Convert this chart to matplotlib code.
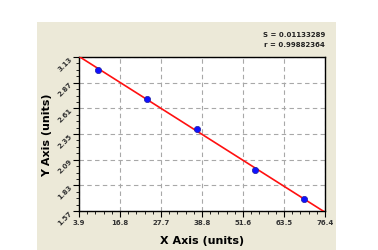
import matplotlib
matplotlib.use("Agg")
import matplotlib.pyplot as plt
import numpy as np
from matplotlib.patches import Rectangle
from matplotlib.ticker import AutoMinorLocator

# standard curve readings
x_vals = [9.6, 23.9, 38.7, 55.9, 70.3]
y_vals = [3.00, 2.705, 2.40, 1.99, 1.69]

x_min, x_max = 3.9, 76.4
y_min, y_max = 1.57, 3.13
x_tick_labels = ["3.9", "16.8", "27.7", "38.8", "51.6", "63.5", "76.4"]
y_tick_labels = ["1.57", "1.83", "2.09", "2.35", "2.61", "2.87", "3.13"]
stat_lines = ["S = 0.01133289", "r = 0.99882364"]

BEIGE = "#ECE9D8"

fig = plt.figure(figsize=(3.78, 2.51), dpi=100)
fig.patch.set_facecolor("white")
fig.patches.append(Rectangle((0.098, 0.0), 0.791, 0.908, transform=fig.transFigure,
                             facecolor=BEIGE, edgecolor="none", zorder=-10))

ax = fig.add_axes([0.209, 0.155, 0.651, 0.614])
ax.set_zorder(2)
ax.set_facecolor("white")

xt = np.linspace(x_min, x_max, len(x_tick_labels))
yt = np.linspace(y_min, y_max, len(y_tick_labels))
ax.set_xlim(x_min, x_max)
ax.set_ylim(y_min, y_max)
ax.set_xticks(xt)
ax.set_xticklabels(x_tick_labels)
ax.set_yticks(yt)
ax.set_yticklabels(y_tick_labels, rotation=45, va="center", rotation_mode="anchor")
ax.xaxis.set_minor_locator(AutoMinorLocator(5))
ax.yaxis.set_minor_locator(AutoMinorLocator(4))
ax.tick_params(which="major", length=4, width=0.8, labelsize=5, pad=2,
               labelcolor="#333333")
ax.tick_params(axis="y", which="major", pad=1.5)
ax.tick_params(which="minor", length=2, width=0.6)
for lab in ax.get_xticklabels() + ax.get_yticklabels():
    lab.set_fontweight("bold")

ax.grid(True, which="major", color="#A8A8A8", ls=(0, (4, 3)), lw=0.8)
for s in ax.spines.values():
    s.set_linewidth(1.0)

# linear fit
k, b = np.polyfit(x_vals, y_vals, 1)
fx = np.array([x_min, x_max])
ax.plot(fx, k * fx + b, color="#FF1010", lw=1.2, zorder=3)
ax.plot(x_vals, y_vals, "o", color="#1010FF", mec="#2020A0", mew=0.5, ms=4.5, zorder=4)

ax.set_xlabel("X Axis (units)", fontsize=8, fontweight="bold")
ax.set_ylabel("Y Axis (units)", fontsize=8, fontweight="bold")
ax.xaxis.set_label_coords(0.5, -0.155)
ax.yaxis.set_label_coords(-0.11, 0.5)

fig.text(0.860, 0.862, stat_lines[0], ha="right", va="center", fontsize=5,
         fontweight="bold", color="#222222")
fig.text(0.860, 0.822, stat_lines[1], ha="right", va="center", fontsize=5,
         fontweight="bold", color="#222222")

fig.savefig("out.png", dpi=100)
